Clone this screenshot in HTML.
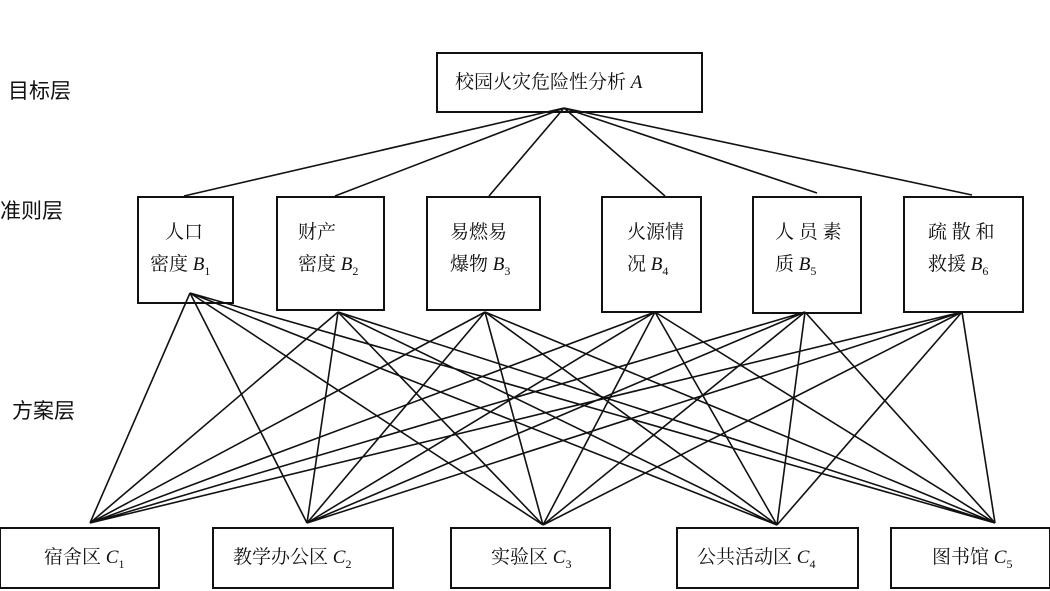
<!DOCTYPE html>
<html><head><meta charset="utf-8"><style>
body{margin:0;background:#fff}
svg{display:block}
text{font-family:"Liberation Serif","Noto Serif CJK SC","Noto Sans CJK SC",serif;fill:#111}
.l{font-family:"Noto Sans CJK SC","WenQuanYi Zen Hei",sans-serif;font-size:21px}
.b{font-size:19px}
</style></head><body>
<svg width="1050" height="591" viewBox="0 0 1050 591" xmlns="http://www.w3.org/2000/svg">
<g stroke="#111" fill="none" stroke-width="1.6">
<rect x="437" y="53" width="265" height="59" stroke-width="2"/>
<rect x="138" y="197" width="95" height="106" stroke-width="2"/>
<rect x="277" y="197" width="107" height="113" stroke-width="2"/>
<rect x="427" y="197" width="113" height="113" stroke-width="2"/>
<rect x="602" y="197" width="99" height="115" stroke-width="2"/>
<rect x="753" y="197" width="108" height="116" stroke-width="2"/>
<rect x="904" y="197" width="119" height="115" stroke-width="2"/>
<rect x="0" y="528" width="159" height="60" stroke-width="2"/>
<rect x="213" y="528" width="180" height="60" stroke-width="2"/>
<rect x="451" y="528" width="159" height="60" stroke-width="2"/>
<rect x="677" y="528" width="181" height="60" stroke-width="2"/>
<rect x="891" y="528" width="159" height="60" stroke-width="2"/>
<path d="M564 108L184 196M564 108L335 196M564 108L489 196M564 108L665 196M564 108L817 193M564 108L972 195"/>
<path d="
M190 293L90 523M190 293L307 523M190 293L543 525M190 293L777 525M190 293L995 523
M338 312L90 523M338 312L307 523M338 312L543 525M338 312L777 525M338 312L995 523
M485 312L90 523M485 312L307 523M485 312L543 525M485 312L777 525M485 312L995 523
M655 312L90 523M655 312L307 523M655 312L543 525M655 312L777 525M655 312L995 523
M805 312L90 523M805 312L307 523M805 312L543 525M805 312L777 525M805 312L995 523
M962 312L90 523M962 312L307 523M962 312L543 525M962 312L777 525M962 312L995 523"/>
</g>
<text class="l" x="8" y="98">目标层</text>
<text class="l" x="0" y="218">准则层</text>
<text class="l" x="12" y="418">方案层</text>
<text class="b" x="455" y="88">校园火灾危险性分析 <tspan font-style="italic">A</tspan></text>
<text class="b" x="165" y="238">人口</text>
<text class="b" x="150" y="270">密度 <tspan font-style="italic">B</tspan><tspan font-size="12" dy="5">1</tspan></text>
<text class="b" x="298" y="238">财产</text>
<text class="b" x="298" y="270">密度 <tspan font-style="italic">B</tspan><tspan font-size="12" dy="5">2</tspan></text>
<text class="b" x="450" y="238">易燃易</text>
<text class="b" x="450" y="270">爆物 <tspan font-style="italic">B</tspan><tspan font-size="12" dy="5">3</tspan></text>
<text class="b" x="627" y="238">火源情</text>
<text class="b" x="627" y="270">况 <tspan font-style="italic">B</tspan><tspan font-size="12" dy="5">4</tspan></text>
<text class="b" x="775" y="238">人 员 素</text>
<text class="b" x="775" y="270">质 <tspan font-style="italic">B</tspan><tspan font-size="12" dy="5">5</tspan></text>
<text class="b" x="928" y="238">疏 散 和</text>
<text class="b" x="928" y="270">救援 <tspan font-style="italic">B</tspan><tspan font-size="12" dy="5">6</tspan></text>
<text class="b" x="44" y="563">宿舍区 <tspan font-style="italic">C</tspan><tspan font-size="12" dy="5">1</tspan></text>
<text class="b" x="233" y="563">教学办公区 <tspan font-style="italic">C</tspan><tspan font-size="12" dy="5">2</tspan></text>
<text class="b" x="491" y="563">实验区 <tspan font-style="italic">C</tspan><tspan font-size="12" dy="5">3</tspan></text>
<text class="b" x="697" y="563">公共活动区 <tspan font-style="italic">C</tspan><tspan font-size="12" dy="5">4</tspan></text>
<text class="b" x="932" y="563">图书馆 <tspan font-style="italic">C</tspan><tspan font-size="12" dy="5">5</tspan></text>
</svg>
</body></html>
